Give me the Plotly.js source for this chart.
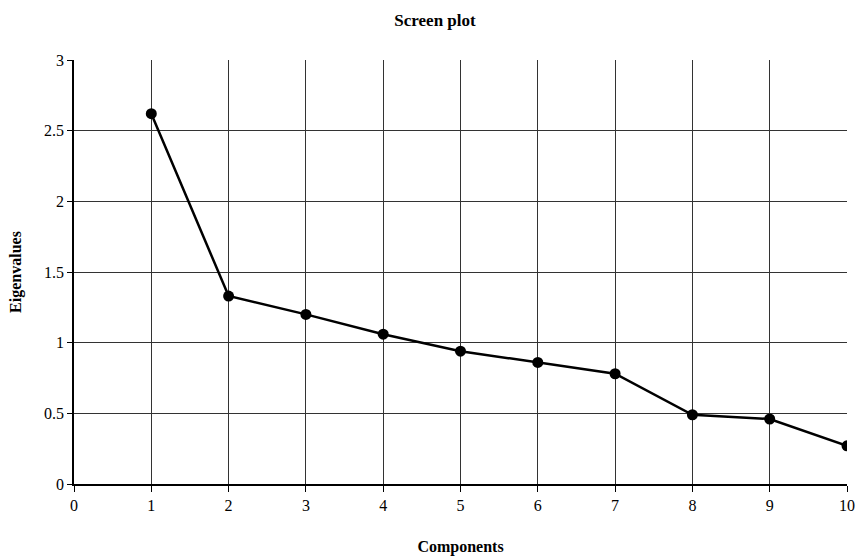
<!DOCTYPE html>
<html>
<head>
<meta charset="utf-8">
<script src="https://cdn.plot.ly/plotly-3.0.1.min.js"></script>
<style>html,body{margin:0;padding:0;background:#fff;}#chart{width:857px;height:556px;}</style>
</head>
<body>
<div id="chart"></div>
<script>
const components = [1, 2, 3, 4, 5, 6, 7, 8, 9, 10];
const eigenvalues = [2.62, 1.33, 1.20, 1.06, 0.94, 0.86, 0.78, 0.49, 0.46, 0.27];
const xTicks = [0, 1, 2, 3, 4, 5, 6, 7, 8, 9, 10];
const yTicks = [0, 0.5, 1, 1.5, 2, 2.5, 3];
const yTickLabels = ['0', '0.5', '1', '1.5', '2', '2.5', '3'];

const serif = '"Liberation Serif", "Times New Roman", serif';

const trace = {
  x: components,
  y: eigenvalues,
  type: 'scatter',
  mode: 'lines+markers',
  line: {color: '#000', width: 2.5},
  marker: {color: '#000', size: 11},
  showlegend: false,
  hoverinfo: 'x+y'
};

const layout = {
  width: 857,
  height: 556,
  margin: {l: 74, r: 10, t: 60, b: 72},
  paper_bgcolor: '#fff',
  plot_bgcolor: '#fff',
  font: {family: serif, color: '#000', size: 16},
  title: {
    text: '<b>Screen plot</b>',
    font: {family: serif, size: 17, color: '#000'},
    xref: 'paper', x: 0.467, xanchor: 'center',
    yref: 'container', y: 0.964, yanchor: 'middle'
  },
  xaxis: {
    range: [0, 10],
    tickvals: xTicks,
    ticktext: xTicks.map(String),
    showgrid: true, gridcolor: '#333', gridwidth: 1.3,
    zeroline: false,
    showline: true, linecolor: '#000', linewidth: 1.5,
    ticks: 'outside', ticklen: 6, tickcolor: '#000',
    tickfont: {family: serif, size: 16, color: '#000'},
    title: {text: '<b>Components</b>', font: {family: serif, size: 16, color: '#000'}, standoff: 28},
    fixedrange: true
  },
  yaxis: {
    range: [0, 3],
    tickvals: yTicks,
    ticktext: yTickLabels,
    showgrid: true, gridcolor: '#333', gridwidth: 1.3,
    zeroline: false,
    showline: true, linecolor: '#000', linewidth: 1.5,
    ticks: 'outside', ticklen: 5, tickcolor: '#000',
    tickfont: {family: serif, size: 16, color: '#000'},
    title: {text: '<b>Eigenvalues</b>', font: {family: serif, size: 16, color: '#000'}, standoff: 18},
    fixedrange: true
  }
};

Plotly.newPlot('chart', [trace], layout, {displayModeBar: false});
</script>
</body>
</html>
